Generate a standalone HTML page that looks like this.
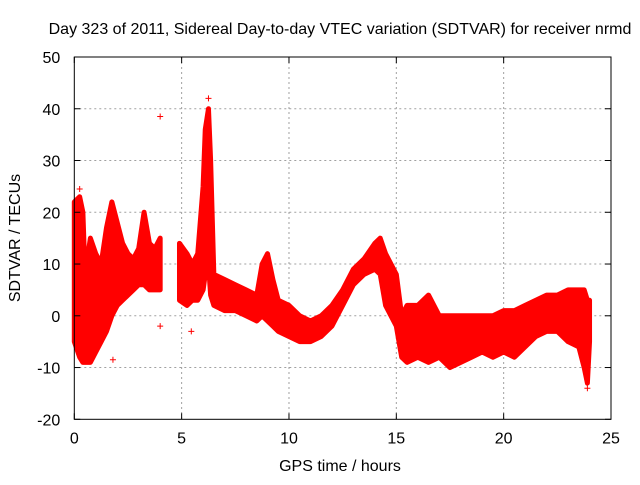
<!DOCTYPE html>
<html><head><meta charset="utf-8"><style>
body{margin:0;background:#fff;font-family:"Liberation Sans",sans-serif}
svg text{font-family:"Liberation Sans",sans-serif;font-size:16px;fill:#000}
</style></head><body>
<svg width="640" height="480" xmlns="http://www.w3.org/2000/svg">
<rect width="640" height="480" fill="#fff"/>
<g id="grid"></g>
<g id="data"></g>
<rect x="74.3" y="57" width="536.7" height="362.3" fill="none" stroke="#000" stroke-width="1"/>
<g id="ticks"></g>
<text x="340" y="34" text-anchor="middle">Day 323 of 2011, Sidereal Day-to-day VTEC variation (SDTVAR) for receiver nrmd</text>
<text x="340" y="471" text-anchor="middle">GPS time / hours</text>
<text x="20" y="238" text-anchor="middle" transform="rotate(-90 20 238)">SDTVAR / TECUs</text>
</svg>
<script>
const xTicks=[0,5,10,15,20,25];
const yTicks=[-20,-10,0,10,20,30,40,50];
const seg1Hours=[0,0.25,0.4,0.5,0.75,1,1.25,1.5,1.75,2,2.25,2.5,2.75,3,3.25,3.5,3.75,4.0];
const seg1Lo=[-5,-8,-9,-9,-9,-7,-5,-3,0,2,3,4,5,6,6,5,5,5];
const seg1Hi=[22,23,20,8,15,12,10,17,22,18,14,12,11,13,20,14,13,15];
const seg2Hours=[4.9,5.25,5.5,5.75,6,6.1,6.25,6.35,6.5,7,7.5,8,8.5,8.75,9,9.25,9.5,10,10.5,11,11.5,12,12.5,13,13.5,14,14.25,14.5,15,15.25,15.5,16,16.5,17,17.5,18,18.5,19,19.5,20,20.5,21,21.5,22,22.5,23,23.5,23.75,23.9,24.0];
const seg2Lo=[3,2,3,3,5,8,10,4,2,1,1,0,-1,0,-1,-2,-3,-4,-5,-5,-4,-2,2,6,8,9,8,2,-2,-8,-9,-8,-9,-8,-10,-9,-8,-7,-8,-7,-8,-6,-4,-3,-3,-5,-6,-10,-13,-5];
const seg2Hi=[14,12,10,12,25,36,40,30,8,7,6,5,4,10,12,7,3,2,0,-1,0,2,5,9,11,14,15,12,8,0,2,2,4,0,0,0,0,0,0,1,1,2,3,4,4,5,5,5,3,3];
const outlierHours=[4.0,4.0,5.45,0.25,6.25,1.8,23.9];
const outlierVals=[38.5,-2,-3,24.5,42,-8.5,-14];
const NS='http://www.w3.org/2000/svg';
const L=74.3,R=611,T=57,B=419.3;
const xs=v=>L+(v-0)/25*(R-L);
const ys=v=>B-(v+20)/70*(B-T);
function mk(t,a,p){const e=document.createElementNS(NS,t);for(const k in a)e.setAttribute(k,a[k]);p.appendChild(e);return e;}
const grid=document.getElementById('grid'),ticks=document.getElementById('ticks'),data=document.getElementById('data');
xTicks.forEach(v=>{const x=xs(v);
 if(v>0&&v<25){const g=mk('line',{x1:x,x2:x,y1:T,y2:B,stroke:'#a0a0a0','stroke-dasharray':'2,3'},grid);}
 const t=mk('text',{x:x,y:B+24,'text-anchor':'middle'},ticks);t.textContent=v;
 
 mk('line',{x1:x,x2:x,y1:B,y2:B-6,stroke:'#000'},ticks);mk('line',{x1:x,x2:x,y1:T,y2:T+6,stroke:'#000'},ticks);});
yTicks.forEach(v=>{const y=ys(v);
 if(v>-20&&v<50){const g=mk('line',{x1:L,x2:R,y1:y,y2:y,stroke:'#a0a0a0','stroke-dasharray':'2,3'},grid);}
 const t=mk('text',{x:L-14,y:y+6,'text-anchor':'end'},ticks);t.textContent=v;
 
 mk('line',{x1:L,x2:L+6,y1:y,y2:y,stroke:'#000'},ticks);mk('line',{x1:R,x2:R-6,y1:y,y2:y,stroke:'#000'},ticks);});
function band(h,lo,hi){
 let pts=h.map((t,i)=>xs(t)+','+ys(hi[i]));
 for(let i=h.length-1;i>=0;i--)pts.push(xs(h[i])+','+ys(lo[i]));
 const p=mk('polygon',{points:pts.join(' '),fill:'#ff0000',stroke:'#ff0000','stroke-width':5,'stroke-linejoin':'round'},data);
 
}
band(seg1Hours,seg1Lo,seg1Hi);band(seg2Hours,seg2Lo,seg2Hi);
function cross(t,v){const x=xs(t),y=ys(v);
 const c=mk('path',{d:`M${x-3},${y}h6M${x},${y-3}v6`,stroke:'#ff0000','stroke-width':1},data);
 }
outlierHours.forEach((t,i)=>cross(t,outlierVals[i]));
</script>
</body></html>
